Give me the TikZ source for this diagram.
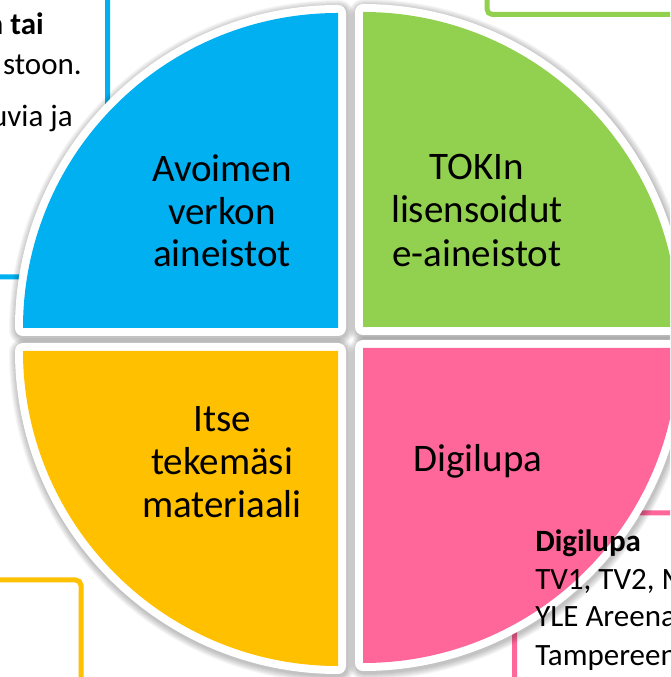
\documentclass[tikz,border=0pt]{standalone}
\usepackage{fontspec}
\setmainfont{Carlito}
\definecolor{qblue}{HTML}{00B0F0}
\definecolor{qgreen}{HTML}{92D050}
\definecolor{qyellow}{HTML}{FFC000}
\definecolor{qpink}{HTML}{FF6699}
\begin{document}
\begin{tikzpicture}[x=0.75pt,y=0.75pt,
  qtext/.style={font=\fontsize{29.25pt}{32pt}\selectfont, anchor=base, inner sep=0pt},
  btext/.style={font=\fontsize{23.25pt}{28pt}\selectfont, inner sep=0pt},
  bbold/.style={btext, font=\fontsize{23.25pt}{28pt}\selectfont\bfseries},
  boxline/.style={line width=3.75pt, rounded corners=4pt}]
\useasboundingbox (0,0) rectangle (670,677);
\clip (0,0) rectangle (670,677);
\fill[white] (0,0) rectangle (670,677);
% callout boxes behind the circle
\draw[boxline, qblue]   (-60,400) rectangle (107.5,740);
\draw[boxline, qgreen]  (487,662.5) rectangle (740,740);
\draw[boxline, qyellow] (-60,-60) rectangle (81,97);
\draw[boxline, qpink]   (514.5,164) rectangle (740,-60);
% shadows
\foreach \cx/\cy/\a/\b in {338/349/180/90, 363/350/90/0, 338/326/180/270, 363/329/0/-90} {
  \foreach \w in {18,20,...,30} {
    \draw[black, opacity=0.035, line width=\w*0.75pt, line join=round, shift={(1,-2)}]
      (\cx,\cy) -- ++(\a:315) arc[start angle=\a, end angle=\b, radius=315] -- cycle;
  }
}
% quadrants
\foreach \cx/\cy/\a/\b/\col in {338/349/180/90/qblue, 363/350/90/0/qgreen, 338/326/180/270/qyellow, 363/329/0/-90/qpink} {
  \draw[white, line width=12pt, line join=round]
    (\cx,\cy) -- ++(\a:315) arc[start angle=\a, end angle=\b, radius=315] -- cycle;
  \fill[\col]
    (\cx,\cy) -- ++(\a:315) arc[start angle=\a, end angle=\b, radius=315] -- cycle;
}
% box texts
\node[bbold, anchor=base east] (tl1) at (44,642) {n tai};
\node[btext, anchor=base east] (tl2) at (82,602) {stoon.};
\node[btext, anchor=base east] (tl3) at (73,550) {uvia ja};
\node[bbold, anchor=base west] (tr1) at (587,681) {pa),};
\node[bbold, anchor=base west] (pk1) at (535,125) {Digilupa};
\node[btext, anchor=base west] (pk2) at (535,87) {TV1, TV2, MTV3,};
\node[btext, anchor=base west] (pk3) at (535,50) {YLE Areena,};
\node[btext, anchor=base west] (pk4) at (535,12) {Tampereen};
% quadrant labels
\node[qtext] (b1) at (222,495) {Avoimen};
\node[qtext] (b2) at (222,452) {verkon};
\node[qtext] (b3) at (222,410) {aineistot};
\node[qtext] (g1) at (477,497) {TOKIn};
\node[qtext] (g2) at (477,454) {lisensoidut};
\node[qtext] (g3) at (477,410) {e-aineistot};
\node[qtext] (y1) at (222,245) {Itse};
\node[qtext] (y2) at (222,202) {tekemäsi};
\node[qtext] (y3) at (222,159) {materiaali};
\node[qtext] (p1) at (478,205) {Digilupa};
\end{tikzpicture}
\end{document}
